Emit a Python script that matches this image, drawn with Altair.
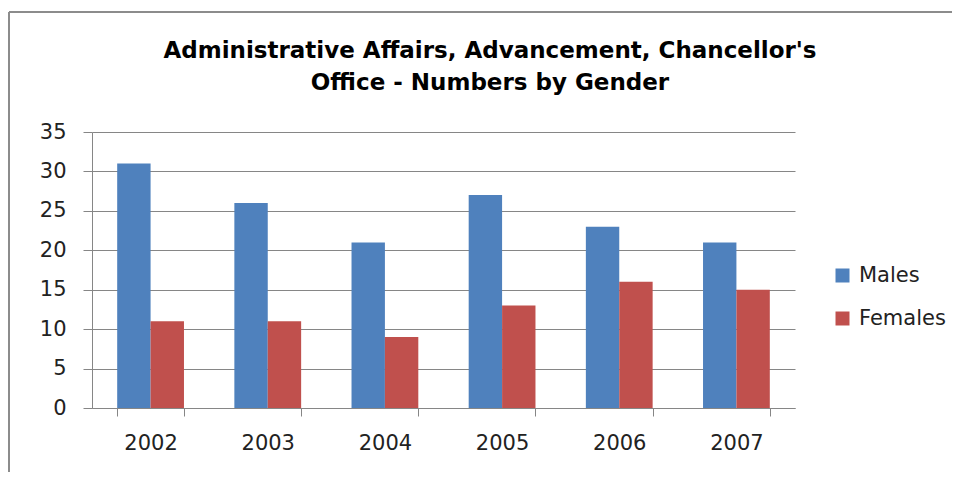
import altair as alt
import pandas as pd

years = ["2002", "2003", "2004", "2005", "2006", "2007"]
males = [31, 26, 21, 27, 23, 21]
females = [11, 11, 9, 13, 16, 15]
series = ["Males", "Females"]
colors = ["#4F81BD", "#C0504D"]
title_lines = ["Administrative Affairs, Advancement, Chancellor's", "Office - Numbers by Gender"]

rows = []
for i, y in enumerate(years):
    rows.append({"year": y, "gender": "Males", "value": males[i]})
    rows.append({"year": y, "gender": "Females", "value": females[i]})
df = pd.DataFrame(rows)

FONT = "DejaVu Sans"
W, H = 703, 276

bars = alt.Chart(df).mark_bar(stroke=None).encode(
    x=alt.X("year:N", sort=years, title=None,
            scale=alt.Scale(paddingInner=0.43, paddingOuter=0.215),
            axis=alt.Axis(labelAngle=0, tickBand="extent", tickSize=8, tickColor="#868686",
                          domainColor="#868686", labelPadding=16, labelFontSize=21,
                          labelFont=FONT, labelColor="#222222", grid=False)),
    xOffset=alt.XOffset("gender:N", sort=series, scale=alt.Scale(paddingInner=0, paddingOuter=0)),
    y=alt.Y("value:Q", title=None,
            scale=alt.Scale(domain=[0, 35], nice=False),
            axis=alt.Axis(values=[0, 5, 10, 15, 20, 25, 30, 35], tickSize=9, tickColor="#868686",
                          domainColor="#868686", gridColor="#868686", labelPadding=17,
                          labelFontSize=21, labelFont=FONT, labelColor="#222222")),
    color=alt.Color("gender:N", sort=series,
                    scale=alt.Scale(domain=series, range=colors),
                    legend=alt.Legend(title=None, orient="none", legendX=740, legendY=133,
                                      symbolType="square", symbolSize=196, symbolStrokeWidth=0,
                                      labelFontSize=21, labelFont=FONT, labelColor="#222222",
                                      rowPadding=21, labelOffset=6)),
)

one = alt.Data(values=[{"k": 1}])
left_line = alt.Chart(one).mark_rule(color="#8c8c8c", strokeWidth=2).encode(
    x=alt.value(-83), y=alt.value(-120), y2=alt.value(360))
top_line = alt.Chart(one).mark_rule(color="#8c8c8c", strokeWidth=2).encode(
    y=alt.value(-120), x=alt.value(-83), x2=alt.value(870))
title_text = alt.Chart(one).mark_text(
    font="DejaVu Sans", fontSize=23, fontWeight="bold", color="#000000",
    align="center", baseline="alphabetic", lineHeight=32).encode(
    x=alt.value(398), y=alt.value(-74), text=alt.value(title_lines))

chart = alt.layer(bars, left_line, top_line, title_text).properties(
    width=W, height=H,
    padding={"left": 84, "top": 124, "right": 157, "bottom": 64},
    autosize=alt.AutoSizeParams(type="none"),
).configure_view(stroke=None).configure_axis(gridWidth=1)

chart.save("out.html", embed_options={"renderer": "svg", "actions": False})
